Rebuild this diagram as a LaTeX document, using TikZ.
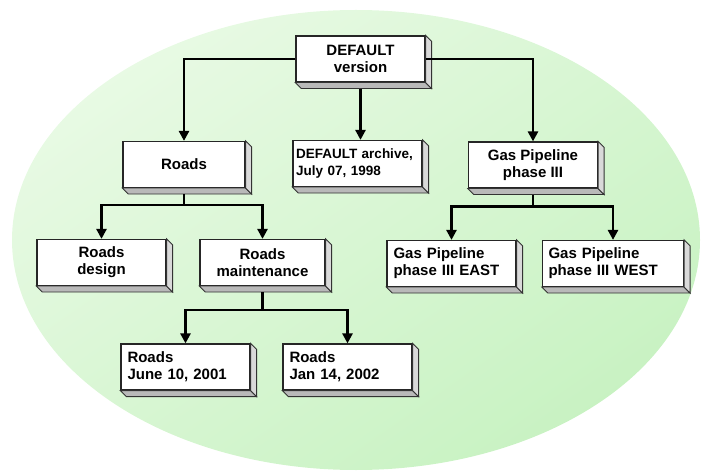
\documentclass[tikz,border=0pt]{standalone}
\usepackage{fontspec}
\setmainfont{Liberation Sans}
\usetikzlibrary{arrows.meta}

\definecolor{mint}{RGB}{200,242,194}
\definecolor{mintlight}{RGB}{232,250,228}

\tikzset{
	vbox/.style={draw=black!85, line width=1.2bp, fill=white, minimum width=129bp, minimum height=46bp,
		inner sep=6bp, align=center, font=\bfseries\fontsize{15bp}{17bp}\selectfont},
	vleft/.style={vbox, align=left, text width=116bp},
	link/.style={line width=2.6bp, -{Triangle[width=10bp,length=10bp]}},
}

% grey side and bottom of a box
\newcommand{\slab}[1]{%
	\filldraw[fill=gray!55, draw=black!80, line width=0.8bp] (#1.south west) -- ([shift={(6,6)}]#1.south west)
		-- ([shift={(6,6)}]#1.south east) -- (#1.south east) -- cycle;
	\filldraw[fill=gray!30, draw=black!80, line width=0.8bp] (#1.north east) -- ([shift={(6,6)}]#1.north east)
		-- ([shift={(6,6)}]#1.south east) -- (#1.south east) -- cycle;
}

\begin{document}
\begin{tikzpicture}[x=1bp, y=-1bp]
	
	\useasboundingbox (0,0) rectangle (706,471);
	\shade[top color=mintlight, bottom color=mint, shading angle=35] (356,240) ellipse [x radius=344, y radius=230];
	
	\node[vbox] (def) at (360.5,59) {DEFAULT\\version};
	
	\node[vbox, minimum width=122bp] (roads) at (184,164.5) {Roads};
	\node[vleft, inner xsep=3bp, text width=123bp, font=\bfseries\fontsize{13.5bp}{17bp}\selectfont] (arch) at (357.5,163.5) {DEFAULT archive,\\July 07, 1998};
	\node[vbox] (gas) at (533,165) {Gas Pipeline\\phase III};
	
	\node[vbox] (design) at (101.5,262.5) {Roads\\design};
	\node[vbox, minimum width=125bp] (maint) at (262.5,262.5) {Roads\\maintenance};
	\node[vleft] (east) at (451.5,263.5) {Gas Pipeline\\phase III EAST};
	\node[vleft, text width=129bp] (west) at (613,263.5) {Gas Pipeline\\phase III WEST};
	
	\node[vleft] (june) at (185.5,367) {Roads\\June 10, 2001};
	\node[vleft] (jan) at (347.5,367) {Roads\\Jan 14, 2002};
	
	\foreach \b in {def,roads,arch,gas,design,maint,east,west,june,jan}
		\slab{\b};
	
	% versions derived from DEFAULT
	\draw[link] (def.west) -| (roads.north);
	\draw[link] (def.east) -| (gas.north);
	\draw[link] ([shift={(0,6)}]def.south) -- (def.south |- arch.north);
	
	\coordinate (rfork) at ([shift={(0,17)}]roads.south);
	\draw[line width=2.6bp] ([shift={(0,6)}]roads.south) -- (rfork);
	\draw[link] (rfork) -| (design.north);
	\draw[link] (rfork) -| (maint.north);
	
	\coordinate (gfork) at ([shift={(0,18)}]gas.south);
	\draw[line width=2.6bp] ([shift={(0,6)}]gas.south) -- (gfork);
	\draw[link] (gfork) -| (east.north);
	\draw[link] (gfork) -| (west.north);
	
	\coordinate (mfork) at ([shift={(0,24)}]maint.south);
	\draw[line width=2.6bp] ([shift={(0,6)}]maint.south) -- (mfork);
	\draw[link] (mfork) -| (june.north);
	\draw[link] (mfork) -| (jan.north);
	
\end{tikzpicture}
\end{document}
